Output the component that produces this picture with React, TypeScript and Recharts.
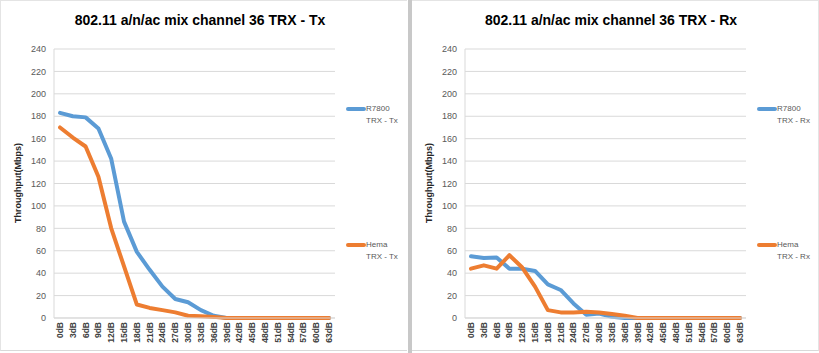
import React from "react";
import { CartesianGrid, Legend, Line, LineChart, XAxis, YAxis } from "recharts";

const categories = [
  "0dB", "3dB", "6dB", "9dB", "12dB", "15dB", "18dB", "21dB", "24dB", "27dB", "30dB",
  "33dB", "36dB", "39dB", "42dB", "45dB", "48dB", "51dB", "54dB", "57dB", "60dB", "63dB"
];

const yTicks = [0, 20, 40, 60, 80, 100, 120, 140, 160, 180, 200, 220, 240];

const txR7800 = [183, 180, 179, 169, 142, 86, 59, 43, 28, 17, 14, 7, 2, 0, 0, 0, 0, 0, 0, 0, 0, 0];
const txHema = [170, 161, 153, 126, 80, 46, 12, 9, 7, 5, 2, 1.5, 1, 0, 0, 0, 0, 0, 0, 0, 0, 0];
const rxR7800 = [55, 53.5, 54, 44, 44, 42, 30, 25, 13, 3, 4, 1, 0, 0, 0, 0, 0, 0, 0, 0, 0, 0];
const rxHema = [44, 47, 44, 56, 45, 28, 7, 5, 5, 5.5, 5, 3.5, 2, 0, 0, 0, 0, 0, 0, 0, 0, 0];

const seriesNames = ["R7800", "Hema"];
const BLUE = "#5b9bd5";
const ORANGE = "#ed7d31";
const FONT = "'Liberation Sans', Arial, sans-serif";

type PanelProps = {
  title: string;
  suffix: string;
  r7800: number[];
  hema: number[];
};

function XTick(props: any) {
  const { x, y, payload } = props;
  return (
    <text
      transform={`translate(${x},${y}) rotate(-90)`}
      textAnchor="end"
      dy="0.35em"
      fontSize={8.5}
      fontWeight="bold"
      fill="#404040"
      fontFamily={FONT}
    >
      {payload.value}
    </text>
  );
}

function Panel({ title, suffix, r7800, hema }: PanelProps) {
  const data = categories.map((c, i) => ({ cat: c, r7800: r7800[i], hema: hema[i] }));

  const renderLegend = (props: any) => {
    const items = [...(props.payload || [])].sort(
      (a: any, b: any) => seriesNames.indexOf(a.value) - seriesNames.indexOf(b.value)
    );
    return (
      <div style={{ position: "relative", width: 60, height: 160, fontFamily: FONT }}>
        {items.map((p: any, i: number) => (
          <div key={p.value} style={{ position: "absolute", left: 0, top: i * 136, width: 60 }}>
            <div style={{ position: "absolute", left: 0, top: 4, width: 20, height: 4, background: p.color, borderRadius: 2 }} />
            <div style={{ position: "absolute", left: 20, top: 0, fontSize: 8, lineHeight: "12px", color: "#595959", whiteSpace: "nowrap" }}>
              {p.value}
              <br />
              {suffix}
            </div>
          </div>
        ))}
      </div>
    );
  };

  return (
    <div style={{ position: "relative", width: 407, height: 353 }}>
      <div
        style={{
          position: "absolute", top: 11, left: 0, width: 400, textAlign: "center",
          fontSize: 14, fontWeight: "bold", lineHeight: "18px", fontFamily: FONT, color: "#000"
        }}
      >
        {title}
      </div>
      <LineChart width={407} height={353} data={data} margin={{ top: 49, right: 72, bottom: 5, left: 10 }}>
        <CartesianGrid vertical={false} stroke="#d9d9d9" />
        <XAxis
          dataKey="cat"
          interval={0}
          height={30}
          padding={{ left: 6, right: 6 }}
          tickLine={false}
          tickSize={0}
          tickMargin={4}
          axisLine={{ stroke: "#d9d9d9" }}
          tick={<XTick />}
        />
        <YAxis
          width={44}
          domain={[0, 240]}
          ticks={yTicks}
          interval={0}
          tickLine={false}
          axisLine={{ stroke: "#d9d9d9" }}
          tick={{ fontSize: 9, fill: "#595959", fontFamily: FONT }}
          label={{
            content: () => (
              <text
                transform="translate(18,183) rotate(-90)"
                textAnchor="middle"
                dominantBaseline="central"
                fontSize={9}
                fontWeight="bold"
                fill="#262626"
                fontFamily={FONT}
              >
                Throughput(Mbps)
              </text>
            )
          }}
        />
        <Legend
          layout="vertical"
          align="center"
          verticalAlign="middle"
          wrapperStyle={{ left: 346, top: 103, width: 60 }}
          content={renderLegend}
        />
        <Line
          type="linear"
          dataKey="r7800"
          name={seriesNames[0]}
          stroke={BLUE}
          strokeWidth={4}
          strokeLinejoin="round"
          strokeLinecap="round"
          dot={false}
          isAnimationActive={false}
        />
        <Line
          type="linear"
          dataKey="hema"
          name={seriesNames[1]}
          stroke={ORANGE}
          strokeWidth={4}
          strokeLinejoin="round"
          strokeLinecap="round"
          dot={false}
          isAnimationActive={false}
        />
      </LineChart>
    </div>
  );
}

export default function App() {
  return (
    <div style={{ position: "absolute", left: 0, top: 0, width: 819, height: 353, background: "#fff", overflow: "hidden" }}>
      <div style={{ position: "absolute", left: 0, top: 0, width: 407, height: 351, borderTop: "1px solid #e4e4e4", borderBottom: "1px solid #d9d9d9", borderLeft: "1px solid #e4e4e4", boxSizing: "border-box" }} />
      <div style={{ position: "absolute", left: 412, top: 0, width: 407, height: 351, borderTop: "1px solid #e4e4e4", borderBottom: "1px solid #d9d9d9", borderRight: "1px solid #e4e4e4", boxSizing: "border-box" }} />
      <div style={{ position: "absolute", left: 408, top: 0, width: 4, height: 353, background: "#c8c8c8" }} />
      <div style={{ position: "absolute", left: 0, top: 0 }}>
        <Panel title="802.11 a/n/ac mix channel 36 TRX - Tx" suffix="TRX - Tx" r7800={txR7800} hema={txHema} />
      </div>
      <div style={{ position: "absolute", left: 411, top: 0 }}>
        <Panel title="802.11 a/n/ac mix channel 36 TRX - Rx" suffix="TRX - Rx" r7800={rxR7800} hema={rxHema} />
      </div>
    </div>
  );
}
